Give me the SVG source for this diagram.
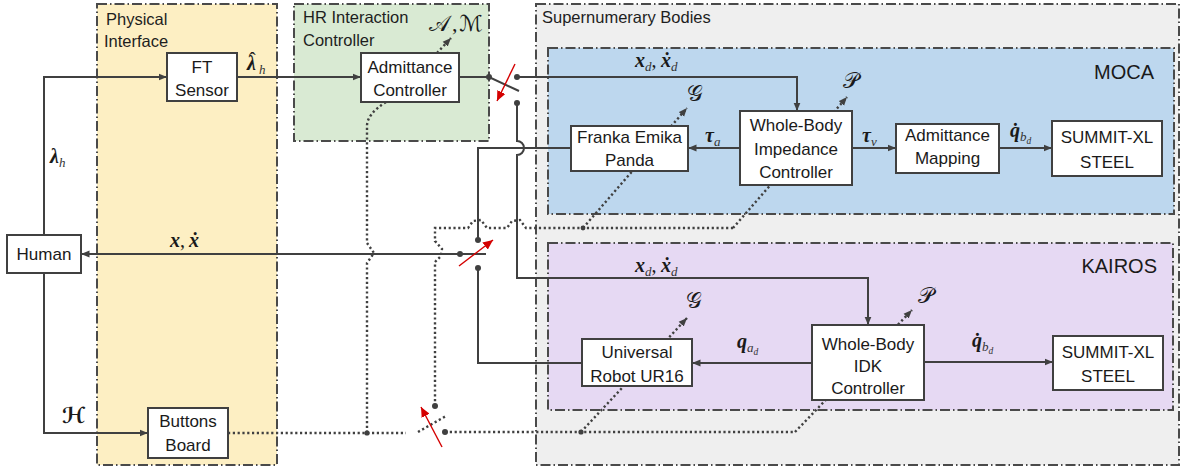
<svg xmlns="http://www.w3.org/2000/svg" width="1182" height="470" viewBox="0 0 1182 470">
  <style>
    .panel { stroke: #4a4a4a; stroke-width: 2; stroke-dasharray: 10 3 1.5 3; }
    .ptitle { font-family: "Liberation Sans", Arial, sans-serif; font-size: 16.5px; fill: #1e1e1e; }
    .tag { font-family: "Liberation Sans", Arial, sans-serif; font-size: 20px; fill: #1a1a1a; text-anchor: end; }
    .box { fill: #ffffff; stroke: #404040; stroke-width: 2; }
    .lbl { font-family: "Liberation Sans", Arial, sans-serif; font-size: 17px; fill: #1a1a1a; text-anchor: middle; }
    .wire { fill: none; stroke: #404040; stroke-width: 2; }
    .dot { fill: none; stroke: #404040; stroke-width: 2.4; stroke-dasharray: 2.2 2.6; }
    .red { fill: none; stroke: #d40000; stroke-width: 1.4; }
    .m { font-family: "Liberation Serif", "DejaVu Serif", serif; font-style: italic; font-weight: bold; font-size: 20px; fill: #1a1a1a; }
    .s { font-family: "Liberation Serif", "DejaVu Serif", serif; font-style: italic; font-weight: normal; font-size: 13px; fill: #333333; }
    .ss { font-family: "Liberation Serif", "DejaVu Serif", serif; font-style: italic; font-weight: normal; font-size: 9.5px; fill: #333333; }
    .up { font-style: normal; font-weight: normal; }
    .cal { font-family: "DejaVu Serif", "DejaVu Sans", serif; font-size: 22px; fill: #1a1a1a; }
  </style>
  <defs>
    <marker id="arr" markerUnits="userSpaceOnUse" markerWidth="9" markerHeight="8" refX="8.5" refY="4" orient="auto">
      <path d="M0,0.5 L8.5,4 L0,7.5 z" fill="#404040"/>
    </marker>
    <marker id="arrRed" markerUnits="userSpaceOnUse" markerWidth="11" markerHeight="9" refX="10" refY="4.5" orient="auto">
      <path d="M0,0 L10,4.5 L0,9 z" fill="#d40000"/>
    </marker>
  </defs>

  <!-- panels -->
  <g id="panels">
    <rect id="supernumerary-bodies" class="panel" x="536" y="4" width="643" height="461" fill="#efefef"/>
    <rect id="moca" class="panel" x="548" y="48" width="626" height="166" fill="#bdd7ee"/>
    <rect id="kairos" class="panel" x="548" y="243" width="625" height="167" fill="#e6d9f3"/>
    <rect id="physical-interface" class="panel" x="97" y="4" width="180" height="461" fill="#fdefc3"/>
    <rect id="hr-interaction-controller" class="panel" x="294" y="4" width="195" height="137" fill="#d9ead3"/>
    <text class="ptitle" x="106" y="25">Physical</text>
    <text class="ptitle" x="104" y="47">Interface</text>
    <text class="ptitle" x="303" y="23">HR Interaction</text>
    <text class="ptitle" x="303" y="46">Controller</text>
    <text class="ptitle" x="542" y="23">Supernumerary Bodies</text>
    <text class="tag" x="1154" y="79">MOCA</text>
    <text class="tag" x="1157" y="273">KAIROS</text>
  </g>

  <!-- connectors -->
  <g id="connectors">
    <!-- signal wires -->
    <path class="wire" d="M44,235 V77 H167" marker-end="url(#arr)"/>
    <path class="wire" d="M237,77 H361" marker-end="url(#arr)"/>
    <path class="wire" d="M459,77 H489 L519,91"/>
    <path class="wire" d="M517,77 H797 V111" marker-end="url(#arr)"/>
    <path class="wire" d="M517,103 V141 A7,7 0 0 1 517,155 V278 H868 V325" marker-end="url(#arr)"/>
    <path class="wire" d="M571,148 H478 V240"/>
    <path class="wire" d="M582,363 H478 V268"/>
    <path class="wire" d="M486,254 H81" marker-end="url(#arr)"/>
    <path class="wire" d="M44,273 V433 H148" marker-end="url(#arr)"/>
    <path class="wire" d="M740,148 H688" marker-end="url(#arr)"/>
    <path class="wire" d="M852,148 H896" marker-end="url(#arr)"/>
    <path class="wire" d="M999,148 H1052" marker-end="url(#arr)"/>
    <path class="wire" d="M812,363 H692" marker-end="url(#arr)"/>
    <path class="wire" d="M924,362 H1053" marker-end="url(#arr)"/>

    <!-- switch contacts and junctions -->
    <g fill="#404040">
      <circle cx="489" cy="77" r="3"/>
      <circle cx="517" cy="77" r="3"/>
      <circle cx="517" cy="103" r="3"/>
      <circle cx="460" cy="254" r="3"/>
      <circle cx="478" cy="240" r="3"/>
      <circle cx="478" cy="268" r="3"/>
      <circle cx="435" cy="406" r="3"/>
      <circle cx="445" cy="432" r="3"/>
      <circle cx="367" cy="433" r="2.6"/>
      <circle cx="583" cy="228" r="2.4"/>
      <circle cx="581" cy="432" r="2.6"/>
    </g>

    <!-- dotted parameter / command links -->
    <path class="dot" d="M437,53 L451,38" marker-end="url(#arr)"/>
    <path class="dot" d="M386,102 Q367,114 367,126 V243 L374,253 L367,263 V433"/>
    <path class="dot" d="M228,433 H406"/>
    <path class="dot" d="M418,432 L446,416"/>
    <path class="dot" d="M435,406 V262 L441,256 L442,249 L435,241 V228 H468 L473,221 L481,220 L487,228 H507 L512,221 L520,220 L526,228 H733"/>
    <path class="dot" d="M733,228 L847,97" marker-end="url(#arr)"/>
    <path class="dot" d="M583,228 L687,108" marker-end="url(#arr)"/>
    <path class="dot" d="M445,432 H795"/>
    <path class="dot" d="M795,432 L912,310" marker-end="url(#arr)"/>
    <path class="dot" d="M581,432 L687,318" marker-end="url(#arr)"/>

    <!-- switch actuation arrows -->
    <path class="red" d="M515,64 L497,101" marker-end="url(#arrRed)"/>
    <path class="red" d="M459,266 L493,240" marker-end="url(#arrRed)"/>
    <path class="red" d="M442,447 L421,407" marker-end="url(#arrRed)"/>

    <!-- signal labels -->
    <text class="m" x="50" y="163">λ<tspan class="s" dy="4">h</tspan></text>
    <text class="m" x="247" y="70">λ<tspan class="up" x="249" dy="-3">ˆ</tspan><tspan class="s" x="259" dy="7">h</tspan></text>
    <text class="m" x="170" y="247">x<tspan class="up">,</tspan><tspan x="189">ẋ</tspan></text>
    <text class="m" x="635" y="67">x<tspan class="s" dy="4">d</tspan><tspan class="up" dy="-4">, </tspan><tspan x="661">ẋ</tspan><tspan class="s" dy="4">d</tspan></text>
    <text class="m" x="635" y="272">x<tspan class="s" dy="4">d</tspan><tspan class="up" dy="-4">, </tspan><tspan x="661">ẋ</tspan><tspan class="s" dy="4">d</tspan></text>
    <text class="m" x="705" y="142">τ<tspan class="s" dy="4">a</tspan></text>
    <text class="m" x="862" y="142">τ<tspan class="s" dy="4">v</tspan></text>
    <text class="m" x="1010" y="137">q̇<tspan class="s" dy="4">b</tspan><tspan class="ss" dy="3">d</tspan></text>
    <text class="m" x="737" y="348">q<tspan class="s" dy="4">a</tspan><tspan class="ss" dy="3">d</tspan></text>
    <text class="m" x="972" y="347">q̇<tspan class="s" dy="4">b</tspan><tspan class="ss" dy="3">d</tspan></text>
    <text class="cal" x="62" y="423" font-weight="bold" font-size="21">ℋ</text>
    <text class="cal" x="429" y="31" font-size="18">𝒜<tspan x="452" font-family="Liberation Serif, serif">,</tspan><tspan x="459">ℳ</tspan></text>
    <text class="cal" x="687" y="101">𝒢</text>
    <text class="cal" x="843" y="88">𝒫</text>
    <text class="cal" x="686" y="308">𝒢</text>
    <text class="cal" x="918" y="303">𝒫</text>
  </g>

  <!-- nodes -->
  <g id="human">
    <rect class="box" x="7" y="235" width="74" height="38"/>
    <text class="lbl" x="44" y="260">Human</text>
  </g>
  <g id="ft-sensor">
    <rect class="box" x="167" y="53" width="70" height="48"/>
    <text class="lbl" x="202" y="73">FT</text>
    <text class="lbl" x="202" y="96">Sensor</text>
  </g>
  <g id="buttons-board">
    <rect class="box" x="148" y="408" width="80" height="50"/>
    <text class="lbl" x="188" y="427">Buttons</text>
    <text class="lbl" x="188" y="451">Board</text>
  </g>
  <g id="admittance-controller">
    <rect class="box" x="361" y="53" width="98" height="49"/>
    <text class="lbl" x="410" y="73">Admittance</text>
    <text class="lbl" x="410" y="96">Controller</text>
  </g>
  <g id="franka-emika-panda">
    <rect class="box" x="571" y="126" width="117" height="45"/>
    <text class="lbl" x="629.5" y="143">Franka Emika</text>
    <text class="lbl" x="629.5" y="166">Panda</text>
  </g>
  <g id="whole-body-impedance-controller">
    <rect class="box" x="740" y="111" width="112" height="74"/>
    <text class="lbl" x="796" y="131">Whole-Body</text>
    <text class="lbl" x="796" y="155">Impedance</text>
    <text class="lbl" x="796" y="178">Controller</text>
  </g>
  <g id="admittance-mapping">
    <rect class="box" x="896" y="124" width="103" height="49"/>
    <text class="lbl" x="947.5" y="141">Admittance</text>
    <text class="lbl" x="947.5" y="164">Mapping</text>
  </g>
  <g id="summit-xl-steel-moca">
    <rect class="box" x="1052" y="121" width="110" height="55"/>
    <text class="lbl" x="1107" y="143">SUMMIT-XL</text>
    <text class="lbl" x="1107" y="168">STEEL</text>
  </g>
  <g id="universal-robot-ur16">
    <rect class="box" x="582" y="339" width="110" height="47"/>
    <text class="lbl" x="637" y="358">Universal</text>
    <text class="lbl" x="637" y="382">Robot UR16</text>
  </g>
  <g id="whole-body-idk-controller">
    <rect class="box" x="812" y="325" width="112" height="75"/>
    <text class="lbl" x="868" y="350">Whole-Body</text>
    <text class="lbl" x="868" y="372">IDK</text>
    <text class="lbl" x="868" y="394">Controller</text>
  </g>
  <g id="summit-xl-steel-kairos">
    <rect class="box" x="1053" y="336" width="110" height="54"/>
    <text class="lbl" x="1108" y="358">SUMMIT-XL</text>
    <text class="lbl" x="1108" y="382">STEEL</text>
  </g>
</svg>
